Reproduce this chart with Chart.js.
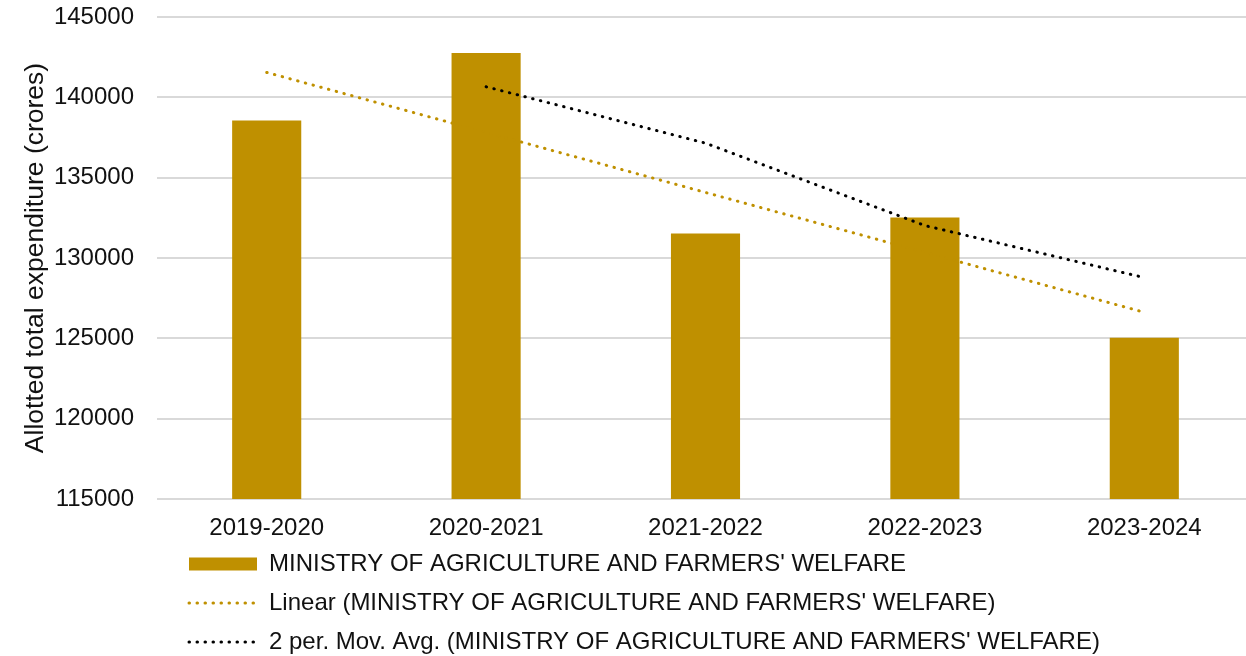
<!DOCTYPE html>
<html>
<head>
<meta charset="utf-8">
<script src="https://cdn.jsdelivr.net/npm/chart.js@4/dist/chart.umd.min.js"></script>
<style>
  html, body { margin: 0; padding: 0; background: #fff; overflow: hidden; }
  #wrap { position: relative; width: 1254px; height: 656px; }
</style>
</head>
<body>
<div id="wrap"><canvas id="c"></canvas></div>
<script>
const categories = ['2019-2020', '2020-2021', '2021-2022', '2022-2023', '2023-2024'];
const expenditure = [138564, 142762, 131531, 132514, 125036];
const linearTrend = [141550, 137820, 134080, 130350, 126620];
const movingAvg2 = [null, 140660, 137150, 132020, 128780];
const seriesNames = [
  "MINISTRY OF AGRICULTURE AND FARMERS' WELFARE",
  "Linear (MINISTRY OF AGRICULTURE AND FARMERS' WELFARE)",
  "2 per. Mov. Avg. (MINISTRY OF AGRICULTURE AND FARMERS' WELFARE)"
];
const yTitle = 'Allotted total expenditure (crores)';

const GOLD = '#BF9000';
const FONT = 'Liberation Sans, Arial, sans-serif';
const TEXT = '#111111';

const legendShift = {
  id: 'legendShift',
  afterLayout(chart) {
    const l = chart.legend;
    if (l) { l.left += 174; }
  }
};

new Chart(document.getElementById('c'), {
  data: {
    labels: categories,
    datasets: [
      {
        type: 'bar',
        label: seriesNames[0],
        data: expenditure,
        backgroundColor: GOLD,
        borderWidth: 0,
        barPercentage: 0.9,
        categoryPercentage: 0.35,
        order: 3
      },
      {
        type: 'line',
        label: seriesNames[1],
        data: linearTrend,
        borderColor: GOLD,
        backgroundColor: GOLD,
        borderWidth: 3,
        borderDash: [0.5, 7.5],
        borderCapStyle: 'round',
        pointRadius: 0,
        fill: false,
        tension: 0,
        order: 1
      },
      {
        type: 'line',
        label: seriesNames[2],
        data: movingAvg2,
        borderColor: '#000000',
        backgroundColor: '#000000',
        borderWidth: 3,
        borderDash: [0.5, 7.5],
        borderCapStyle: 'round',
        pointRadius: 0,
        fill: false,
        tension: 0,
        order: 2
      }
    ]
  },
  options: {
    responsive: true,
    maintainAspectRatio: false,
    animation: false,
    layout: { padding: { left: 0, right: 0, top: 17, bottom: -8 } },
    plugins: {
      tooltip: { enabled: false },
      legend: {
        position: 'bottom',
        align: 'start',
        labels: {
          color: TEXT,
          font: { family: FONT, size: 24 },
          usePointStyle: true,
          pointStyleWidth: 68,
          boxHeight: 13,
          padding: 15,
          sort: (a, b) => a.datasetIndex - b.datasetIndex,
          generateLabels(chart) {
            const items = Chart.defaults.plugins.legend.labels.generateLabels(chart);
            items.forEach(it => {
              const ds = chart.data.datasets[it.datasetIndex];
              if (ds.type === 'bar') {
                it.pointStyle = 'rect';
                it.fillStyle = ds.backgroundColor;
                it.strokeStyle = ds.backgroundColor;
                it.lineWidth = 0;
                it.lineDash = [];
              } else {
                it.pointStyle = 'line';
                it.fillStyle = ds.borderColor;
                it.strokeStyle = ds.borderColor;
                it.lineWidth = ds.borderWidth;
                it.lineDash = ds.borderDash;
                it.lineCap = 'round';
              }
            });
            return items;
          }
        }
      }
    },
    scales: {
      x: {
        grid: { display: false },
        border: { display: false },
        ticks: { color: TEXT, font: { family: FONT, size: 24 }, padding: 7, maxRotation: 0 },
        afterFit(scale) { scale.height = 38; }
      },
      y: {
        min: 115000,
        max: 145000,
        border: { display: false },
        grid: { color: '#d9d9d9', lineWidth: 2, drawTicks: true, tickLength: 23, tickColor: 'rgba(0,0,0,0)' },
        ticks: { stepSize: 5000, color: TEXT, font: { family: FONT, size: 24 }, padding: 0,
                 callback: v => String(v) },
        title: {
          display: true,
          text: yTitle,
          color: TEXT,
          font: { family: FONT, size: 26.5 },
          padding: { top: 20, bottom: 4 }
        },
        afterFit(scale) { scale.width = 157; }
      }
    }
  },
  plugins: [legendShift]
});
</script>
</body>
</html>
